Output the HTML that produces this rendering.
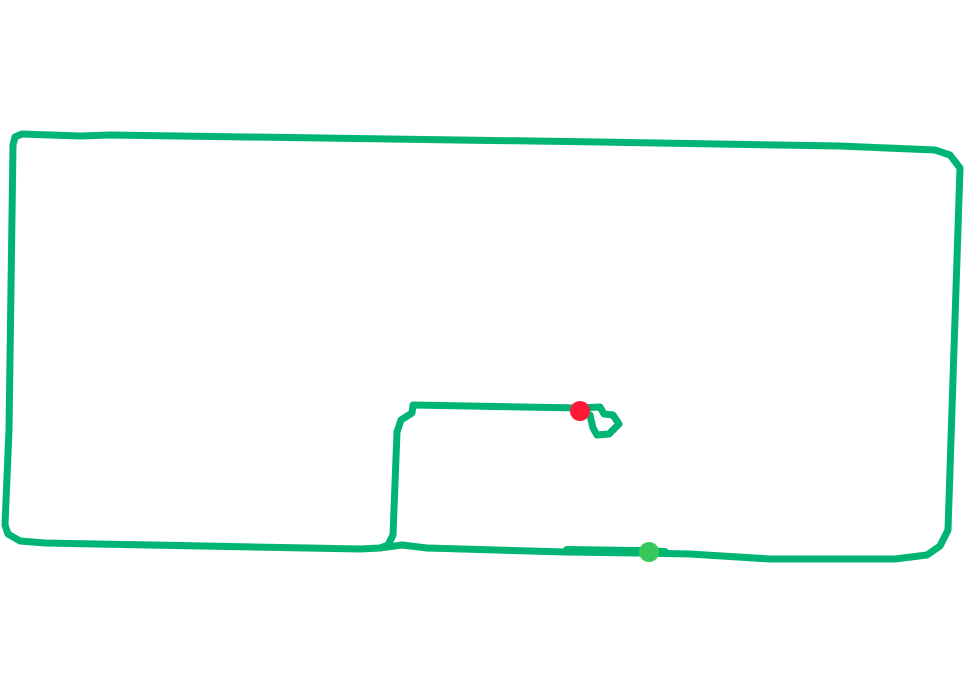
<!DOCTYPE html>
<html><head><meta charset="utf-8"><style>html,body{margin:0;padding:0;background:#fff;width:965px;height:695px;overflow:hidden}</style></head>
<body>
<svg width="965" height="695" viewBox="0 0 965 695" xmlns="http://www.w3.org/2000/svg">
<g fill="none" stroke="#00b574" stroke-width="7" stroke-linejoin="round" stroke-linecap="round">
<polyline points="580,408 413,405 412,413 401,420 397,432 393,535 388,545 380,548 360,549 45,543 20,541 8,534 5,525 9,430 13,145 15,137 22,134 80,136 110,135 600,142 840,146 935,150 950,155 960,168 948,530 940,546 927,555 895,559 770,559 690,554 640,553 565,552 427,548 402,545 380,548"/>
<polyline points="580,408 600,407 604,414 613,415 619,424 609,434 597,435 593,428 590,415"/>
<polyline points="567,550 640,551 665,552" stroke-width="8"/>
</g>
<circle cx="580" cy="411" r="10" fill="#ff1a3a"/>
<circle cx="649" cy="552" r="10" fill="#3ac85a"/>
</svg>
</body></html>
